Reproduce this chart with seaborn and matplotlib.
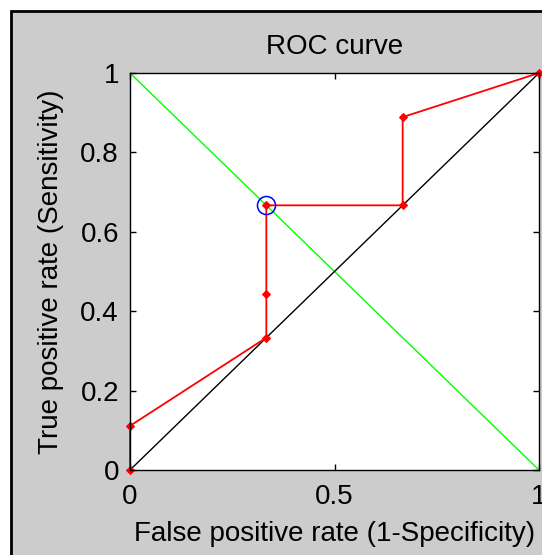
import numpy as np
import pandas as pd
import matplotlib
matplotlib.use('Agg')
import matplotlib.pyplot as plt
import seaborn as sns
from matplotlib.patches import Rectangle

# ROC points
fpr = [0, 0, 1/3, 1/3, 1/3, 2/3, 2/3, 1]
tpr = [0, 1/9, 1/3, 4/9, 2/3, 2/3, 8/9, 1]
best_fpr = [1/3]
best_tpr = [2/3]
chance_x = [0, 1]
chance_y = [0, 1]
anti_x = [0, 1]
anti_y = [1, 0]

x_ticks = [0, 0.5, 1]
y_ticks = [0, 0.2, 0.4, 0.6, 0.8, 1]

sns.set_style('white', {'text.color': 'black', 'axes.labelcolor': 'black',
                        'xtick.color': 'black', 'ytick.color': 'black'})
plt.rcParams['font.family'] = ['Liberation Sans', 'DejaVu Sans']

fig = plt.figure(figsize=(5.42, 5.55), dpi=100, facecolor='white')
# grey figure panel with black frame on top/left
fig.patches.append(Rectangle((11 / 542, -0.5), 2, 1.5 - 11 / 555,
                             transform=fig.transFigure, facecolor='#cccccc',
                             edgecolor='black', linewidth=2, zorder=-10))

ax = fig.add_axes([130 / 542, 85 / 555, 409 / 542, 397 / 555])
ax.set_facecolor('white')

roc = pd.DataFrame({'fpr': fpr, 'tpr': tpr})
sns.lineplot(x=anti_x, y=anti_y, color='#00ff00', linewidth=1, ax=ax)
sns.lineplot(x=chance_x, y=chance_y, color='black', linewidth=1, ax=ax)
sns.lineplot(data=roc, x='fpr', y='tpr', estimator=None, sort=False,
             color='red', linewidth=1.3, marker='D', markersize=4,
             markeredgecolor='red', clip_on=False, ax=ax)
ax.plot(best_fpr, best_tpr, 'o', markersize=13, markerfacecolor='none',
        markeredgecolor='blue', markeredgewidth=1.1)

ax.set_xlim(0, 1)
ax.set_ylim(0, 1)
ax.set_xticks(x_ticks)
ax.set_xticklabels(['0', '0.5', '1'])
ax.set_yticks(y_ticks)
ax.set_yticklabels(['0', '0.2', '0.4', '0.6', '0.8', '1'])
ax.tick_params(direction='in', length=4, width=1, labelsize=20, pad=8,
               colors='black', top=True, right=True, bottom=True, left=True)
ax.tick_params(axis='x', pad=10)
for s in ax.spines.values():
    s.set_color('black')
    s.set_linewidth(1)

ax.set_title('ROC curve', fontsize=20, pad=14, color='black')
ax.set_xlabel('False positive rate (1-Specificity)', fontsize=20, labelpad=8,
              color='black')
ax.set_ylabel('True positive rate (Sensitivity)', fontsize=20, labelpad=12,
              color='black')

fig.savefig('out.png', dpi=100, facecolor=fig.get_facecolor())
